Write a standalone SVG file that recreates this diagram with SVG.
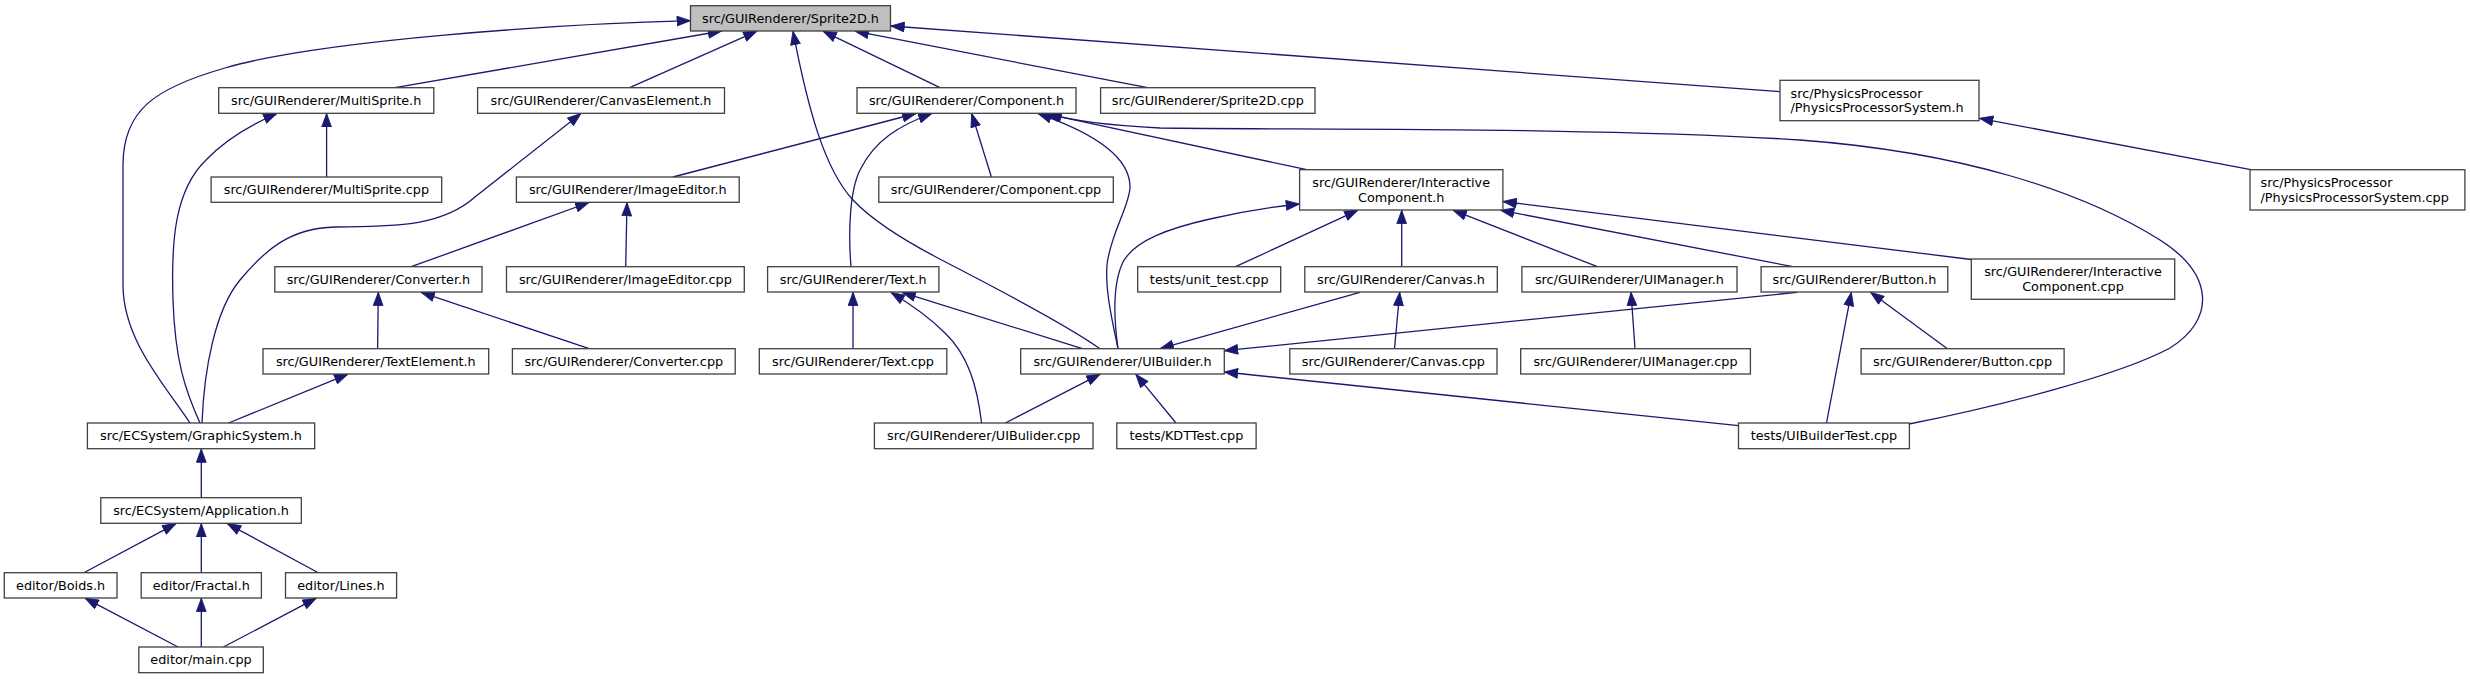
<svg xmlns="http://www.w3.org/2000/svg" width="2470" height="679" viewBox="0 0 2470 679">
<style>
.n rect{fill:#ffffff;stroke:#404040;stroke-width:1.3}
.n.root rect{fill:#bfbfbf}
.n text{font-family:"DejaVu Sans","Liberation Sans",sans-serif;font-size:12.8px;fill:#000000;text-anchor:middle}
.n text.l{text-anchor:start}
#edges path{fill:none;stroke:#191970;stroke-width:1.3;marker-end:url(#arr)}
</style>
<defs>
<marker id="arr" markerUnits="userSpaceOnUse" markerWidth="15" markerHeight="11" viewBox="-0.5 -0.5 14.5 10.5" refX="13" refY="4.75" orient="auto">
<path d="M0,0 L13,4.75 L0,9.5 Z" fill="#191970" stroke="#191970" stroke-width="0.8"/>
</marker>
</defs>
<rect x="0" y="0" width="2470" height="679" fill="#ffffff"/>
<g id="edges">
<path d="M395,87.7 L721.7,31"/>
<path d="M629.7,87.7 L757,31.2"/>
<path d="M940,87.7 L823,31.2"/>
<path d="M1147.6,87.7 L855,31.2"/>
<path d="M1780,91.7 L890.8,26"/>
<path d="M190,423 C165,385 123,340 123,285 L123,165 C123,110 155,88 225,68 C320,40 560,24 690.5,20.7"/>
<path d="M1100,348.7 C1060,320 970,275 936,257 C900,238 870,218 853,200 C825,170 808,110 793,31.2"/>
<path d="M326.6,177 L326.6,113.5"/>
<path d="M200,423 C185,390 175,360 173,300 C171,240 175,190 206,160 C225,140 250,125 277,113.5"/>
<path d="M202,423 C204,370 215,310 240,280 C265,250 290,228 335,227 C390,226 440,228 475,197 L581,113.5"/>
<path d="M673,177 L916,113.5"/>
<path d="M851,266.7 C848,230 850,190 860,170 C875,140 900,125 932,113.5"/>
<path d="M991.4,177 L971.7,113.5"/>
<path d="M1118,348.7 C1112,320 1105,290 1107,265 C1110,235 1130,205 1130,187 C1130,160 1100,135 1038,113.6"/>
<path d="M1306.8,169.7 L1045,113.6"/>
<path d="M1909,424 C2000,406 2120,375 2170,348 C2215,320 2215,275 2160,240 C2080,190 1960,152 1800,140 C1600,127 1300,130 1160,128 C1100,125 1070,120 1048,113.6"/>
<path d="M411.2,266.7 L589,202.5"/>
<path d="M625.7,266.7 L627,202.5"/>
<path d="M377.6,348.7 L378.3,292.2"/>
<path d="M589.2,348.7 L421,292.3"/>
<path d="M228.5,423 L348,374.2"/>
<path d="M853,348.7 L853,292.2"/>
<path d="M981.6,423 C977,385 968,355 945,333 C930,318 912,305 891,292.5"/>
<path d="M1082.4,348.7 L902,292.3"/>
<path d="M1235.6,266.7 L1358,210.2"/>
<path d="M1401.7,266.7 L1401.7,210.2"/>
<path d="M1597.4,266.7 L1453,210.2"/>
<path d="M1793,266.7 L1500.5,210.2"/>
<path d="M1971.3,259.5 L1503,201.5"/>
<path d="M1118,348.7 C1114,320 1112,285 1123,262 C1135,240 1170,228 1210,219 C1240,212 1270,207 1299.6,204"/>
<path d="M1360,292.3 L1160,348.7"/>
<path d="M1394.5,348.7 L1399.7,292.2"/>
<path d="M1635,348.7 L1631,292.2"/>
<path d="M1797,292.3 L1224.3,350.7"/>
<path d="M1947.4,348.7 L1870.5,292.3"/>
<path d="M1826.5,423 L1851.3,292.3"/>
<path d="M1005.3,423 L1100.2,374.2"/>
<path d="M1176,423 L1135.8,374.2"/>
<path d="M1738.5,425.7 L1224.3,372"/>
<path d="M2250.8,169.7 L1979.5,118.3"/>
<path d="M201.3,497.7 L201.3,448.9"/>
<path d="M83.8,572.7 L176,523.6"/>
<path d="M201.3,572.7 L201.3,523.5"/>
<path d="M318.3,572.7 L227.3,523.6"/>
<path d="M178,647 L85,598.2"/>
<path d="M201.3,647 L201.3,598.2"/>
<path d="M223.4,647 L316.3,598.2"/>
</g>
<g id="sprite2d_h" class="n root"><rect x="690.5" y="5.7" width="200" height="25.3"/><text x="790.5" y="23">src/GUIRenderer/Sprite2D.h</text></g>
<g id="multisprite_h" class="n"><rect x="218.7" y="87.7" width="215.1" height="25.6"/><text x="326.2" y="105.1">src/GUIRenderer/MultiSprite.h</text></g>
<g id="canvaselement_h" class="n"><rect x="477.6" y="87.7" width="246.9" height="25.6"/><text x="601" y="105.1">src/GUIRenderer/CanvasElement.h</text></g>
<g id="component_h" class="n"><rect x="857" y="87.7" width="219" height="25.6"/><text x="966.5" y="105.1">src/GUIRenderer/Component.h</text></g>
<g id="sprite2d_cpp" class="n"><rect x="1100.6" y="87.7" width="214.4" height="25.6"/><text x="1207.8" y="105.1">src/GUIRenderer/Sprite2D.cpp</text></g>
<g id="pps_h" class="n"><rect x="1780" y="80.3" width="199" height="40.4"/><text class="l" x="1790.5" y="97.7">src/PhysicsProcessor</text><text class="l" x="1790.5" y="112.3">/PhysicsProcessorSystem.h</text></g>
<g id="multisprite_cpp" class="n"><rect x="211.1" y="177" width="230.6" height="25.3"/><text x="326.4" y="194.3">src/GUIRenderer/MultiSprite.cpp</text></g>
<g id="imageeditor_h" class="n"><rect x="516.4" y="177" width="222.8" height="25.3"/><text x="627.8" y="194.3">src/GUIRenderer/ImageEditor.h</text></g>
<g id="component_cpp" class="n"><rect x="878.8" y="177" width="234.5" height="25.3"/><text x="996" y="194.3">src/GUIRenderer/Component.cpp</text></g>
<g id="interactivecomponent_h" class="n"><rect x="1299.6" y="169.7" width="203.3" height="40.3"/><text x="1401.2" y="187">src/GUIRenderer/Interactive</text><text x="1401.2" y="201.7">Component.h</text></g>
<g id="pps_cpp" class="n"><rect x="2250" y="169.7" width="214.9" height="40.3"/><text class="l" x="2260.5" y="187">src/PhysicsProcessor</text><text class="l" x="2260.5" y="201.7">/PhysicsProcessorSystem.cpp</text></g>
<g id="converter_h" class="n"><rect x="274.8" y="266.7" width="207.2" height="25.3"/><text x="378.4" y="284">src/GUIRenderer/Converter.h</text></g>
<g id="imageeditor_cpp" class="n"><rect x="506.5" y="266.7" width="237.8" height="25.3"/><text x="625.4" y="284">src/GUIRenderer/ImageEditor.cpp</text></g>
<g id="text_h" class="n"><rect x="767.6" y="266.7" width="171.3" height="25.3"/><text x="853.2" y="284">src/GUIRenderer/Text.h</text></g>
<g id="unit_test_cpp" class="n"><rect x="1137.7" y="266.7" width="143" height="25.3"/><text x="1209.2" y="284">tests/unit_test.cpp</text></g>
<g id="canvas_h" class="n"><rect x="1304.8" y="266.7" width="192.5" height="25.3"/><text x="1401" y="284">src/GUIRenderer/Canvas.h</text></g>
<g id="uimanager_h" class="n"><rect x="1521.9" y="266.7" width="215.1" height="25.3"/><text x="1629.4" y="284">src/GUIRenderer/UIManager.h</text></g>
<g id="button_h" class="n"><rect x="1761.1" y="266.7" width="186.7" height="25.3"/><text x="1854.4" y="284">src/GUIRenderer/Button.h</text></g>
<g id="interactivecomponent_cpp" class="n"><rect x="1971.3" y="259" width="203.4" height="40.3"/><text x="2073" y="276.4">src/GUIRenderer/Interactive</text><text x="2073" y="291">Component.cpp</text></g>
<g id="textelement_h" class="n"><rect x="263" y="348.7" width="225.7" height="25.3"/><text x="375.8" y="366">src/GUIRenderer/TextElement.h</text></g>
<g id="converter_cpp" class="n"><rect x="512.4" y="348.7" width="222.8" height="25.3"/><text x="623.8" y="366">src/GUIRenderer/Converter.cpp</text></g>
<g id="text_cpp" class="n"><rect x="759.3" y="348.7" width="187.5" height="25.3"/><text x="853" y="366">src/GUIRenderer/Text.cpp</text></g>
<g id="uibuilder_h" class="n"><rect x="1020.7" y="348.7" width="203.6" height="25.3"/><text x="1122.5" y="366">src/GUIRenderer/UIBuilder.h</text></g>
<g id="canvas_cpp" class="n"><rect x="1289.8" y="348.7" width="207.2" height="25.3"/><text x="1393.4" y="366">src/GUIRenderer/Canvas.cpp</text></g>
<g id="uimanager_cpp" class="n"><rect x="1520.7" y="348.7" width="229.7" height="25.3"/><text x="1635.5" y="366">src/GUIRenderer/UIManager.cpp</text></g>
<g id="button_cpp" class="n"><rect x="1861.1" y="348.7" width="203" height="25.3"/><text x="1962.6" y="366">src/GUIRenderer/Button.cpp</text></g>
<g id="graphicsystem_h" class="n"><rect x="87.4" y="423" width="227.3" height="25.7"/><text x="201" y="440.4">src/ECSystem/GraphicSystem.h</text></g>
<g id="uibulider_cpp" class="n"><rect x="874.4" y="423" width="218.6" height="25.7"/><text x="983.7" y="440.4">src/GUIRenderer/UIBulider.cpp</text></g>
<g id="kdttest_cpp" class="n"><rect x="1116.8" y="423" width="139.3" height="25.7"/><text x="1186.4" y="440.4">tests/KDTTest.cpp</text></g>
<g id="uibuildertest_cpp" class="n"><rect x="1738.5" y="423" width="170.9" height="25.7"/><text x="1824" y="440.4">tests/UIBuilderTest.cpp</text></g>
<g id="application_h" class="n"><rect x="100.8" y="497.7" width="200.5" height="25.6"/><text x="201" y="515.1">src/ECSystem/Application.h</text></g>
<g id="boids_h" class="n"><rect x="4.3" y="572.7" width="112.7" height="25.3"/><text x="60.6" y="590">editor/Boids.h</text></g>
<g id="fractal_h" class="n"><rect x="141.2" y="572.7" width="120.2" height="25.3"/><text x="201.3" y="590">editor/Fractal.h</text></g>
<g id="lines_h" class="n"><rect x="285.5" y="572.7" width="111.1" height="25.3"/><text x="341" y="590">editor/Lines.h</text></g>
<g id="main_cpp" class="n"><rect x="138.8" y="647" width="124.5" height="25.7"/><text x="201" y="664.4">editor/main.cpp</text></g>
</svg>
